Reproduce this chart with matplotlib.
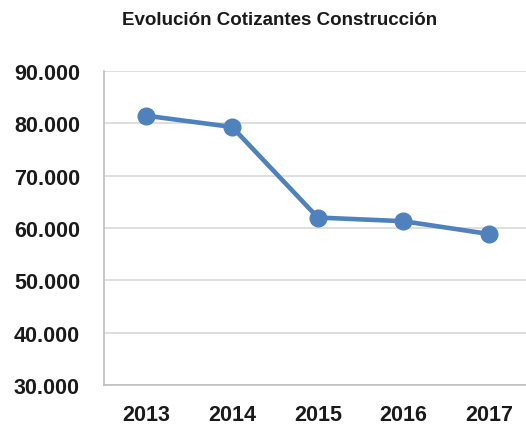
import matplotlib
matplotlib.use("Agg")
import matplotlib.pyplot as plt

plt.rc('font', family='Liberation Sans', weight='bold')

years = ["2013", "2014", "2015", "2016", "2017"]
cotizantes = [81450, 79300, 62000, 61300, 58850]
yticks = [30000, 40000, 50000, 60000, 70000, 80000, 90000]
ytick_labels = ["30.000", "40.000", "50.000", "60.000", "70.000", "80.000", "90.000"]

fig = plt.figure(figsize=(5.26, 4.27), dpi=100)
ax = fig.add_axes([0.197, 0.096, 0.8143, 0.7354])

x = list(range(len(years)))
ax.plot(x, cotizantes, color='#4F81BD', linewidth=3.3, marker='o',
        markersize=12, zorder=3, clip_on=False)

ax.set_xlim(-0.5, len(years) - 0.5)
ax.set_ylim(30000, 90000)
ax.set_yticks(yticks)
ax.set_yticklabels(ytick_labels)
ax.set_xticks(x)
ax.set_xticklabels(years)
ax.tick_params(axis='both', length=0, labelsize=15.5, colors='#1a1a1a')
ax.tick_params(axis='y', pad=17)
ax.tick_params(axis='x', pad=14)

ax.grid(axis='y', color='#d9d9d9', linewidth=1.2, zorder=0)
ax.set_axisbelow(True)
for side in ['top', 'right']:
    ax.spines[side].set_visible(False)
for side in ['left', 'bottom']:
    ax.spines[side].set_color('#bfbfbf')
    ax.spines[side].set_linewidth(1.2)

fig.text(0.532, 0.953, "Evolución Cotizantes Construcción", ha='center', va='center',
         fontsize=13.5, fontweight='bold', color='#1a1a1a')

fig.savefig("out.png", dpi=100)
